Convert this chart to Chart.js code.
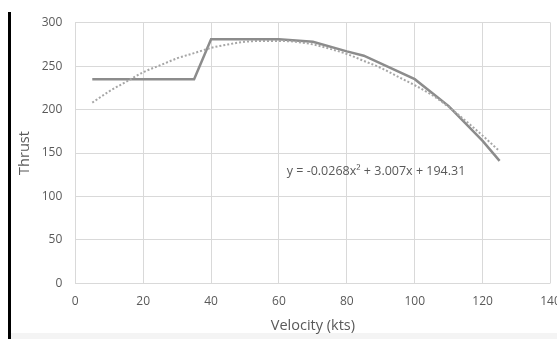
<!DOCTYPE html>
<html>
<head>
<meta charset="utf-8">
<script src="https://cdn.jsdelivr.net/npm/chart.js@4/dist/chart.umd.min.js"></script>
<style>
  html, body { margin: 0; padding: 0; background: #fff; overflow: hidden; width: 557px; height: 339px; }
  #wrap { position: absolute; left: 0; top: 0; width: 575px; height: 339px; }
  #bar { position: absolute; left: 8px; top: 12px; width: 3px; height: 327px; background: #000; }
  #foot { position: absolute; left: 11px; top: 333px; width: 546px; height: 6px; background: #f4f4f4; }
</style>
</head>
<body>
<div id="foot"></div>
<div id="wrap"><canvas id="c"></canvas></div>
<div id="bar"></div>
<script>
// Measured thrust curve (solid line)
const velocity = [5, 35, 40, 60, 70, 80, 85, 100, 110, 120, 125];
const thrust   = [235, 235, 281, 281, 278, 267, 262, 235, 204, 164, 141];

// Polynomial trendline (dotted line)
const trendVelocity = [5, 10, 15, 20, 25, 30, 35, 40, 45, 50, 55, 60, 65, 70, 75, 80, 85, 90, 95, 100, 105, 110, 115, 120, 125];
const trendThrust   = [208, 221, 232, 243, 251, 259, 265, 271, 275, 278, 279, 279, 278, 275, 270, 264, 256, 248, 238, 228, 217, 203, 187, 170, 152];

const xTicks = [0, 20, 40, 60, 80, 100, 120, 140];
const yTicks = [0, 50, 100, 150, 200, 250, 300];
const equationText = 'y = -0.0268x\u00B2 + 3.007x + 194.31';
const equationAt = { x: 62.3, y: 128.5 };

const FONT = '"Open Sans", sans-serif';
const GREY_TEXT = '#595959';

const toPts = (xs, ys) => xs.map((x, i) => ({ x: x, y: ys[i] }));

const eqPlugin = {
  id: 'eq',
  afterDatasetsDraw(chart) {
    const { ctx, scales } = chart;
    const px = scales.x.getPixelForValue(equationAt.x);
    const py = scales.y.getPixelForValue(equationAt.y);
    ctx.save();
    ctx.font = '12.5px ' + FONT;
    ctx.fillStyle = GREY_TEXT;
    ctx.textAlign = 'left';
    ctx.textBaseline = 'middle';
    ctx.fillText(equationText, px, py);
    ctx.restore();
  }
};

new Chart(document.getElementById('c'), {
  type: 'scatter',
  data: {
    datasets: [
      {
        label: 'Thrust',
        data: toPts(velocity, thrust),
        showLine: true,
        borderColor: '#8c8c8c',
        borderWidth: 2.5,
        pointRadius: 0,
        tension: 0,
        order: 1
      },
      {
        label: 'Poly. (Thrust)',
        data: toPts(trendVelocity, trendThrust),
        showLine: true,
        borderColor: '#a6a6a6',
        borderWidth: 2,
        borderDash: [2, 2],
        pointRadius: 0,
        cubicInterpolationMode: 'monotone',
        order: 0
      }
    ]
  },
  options: {
    responsive: true,
    maintainAspectRatio: false,
    animation: false,
    devicePixelRatio: 1,
    layout: { padding: { left: 12, right: 24.5, top: 22.7, bottom: 0 } },
    plugins: { legend: { display: false }, tooltip: { enabled: false } },
    scales: {
      x: {
        type: 'linear',
        min: 0, max: 140,
        afterBuildTicks(s) { s.ticks = xTicks.map(v => ({ value: v })); },
        afterFit(s) { s.height = 55.7; },
        grid: { color: '#d9d9d9', lineWidth: 1, drawTicks: false },
        border: { display: false },
        ticks: { color: GREY_TEXT, font: { family: FONT, size: 12 }, padding: 11, maxRotation: 0 },
        title: { display: true, text: 'Velocity (kts)', color: GREY_TEXT, font: { family: FONT, size: 14.5 }, padding: { top: 0, bottom: 4 } }
      },
      y: {
        type: 'linear',
        min: 0, max: 300,
        afterBuildTicks(s) { s.ticks = yTicks.map(v => ({ value: v })); },
        afterFit(s) { s.width = 63.3; },
        grid: { color: '#d9d9d9', lineWidth: 1, drawTicks: false },
        border: { display: false },
        ticks: { color: GREY_TEXT, font: { family: FONT, size: 12 }, padding: 13 },
        title: { display: true, text: 'Thrust', color: GREY_TEXT, font: { family: FONT, size: 14.5 }, padding: { top: 4, bottom: 0 } }
      }
    }
  },
  plugins: [eqPlugin]
});
</script>
</body>
</html>
